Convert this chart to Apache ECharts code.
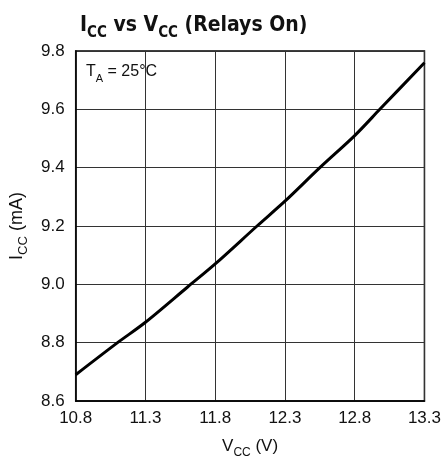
<!DOCTYPE html>
<html><head><meta charset="utf-8">
<script src="https://cdn.jsdelivr.net/npm/echarts@6/dist/echarts.min.js"></script>
<style>html,body{margin:0;padding:0;background:#fff}#c{width:444px;height:464px}</style>
</head><body><div id="c"></div>
<script>
var vccValues = [10.8, 11.1, 11.3, 11.6, 11.8, 12.1, 12.3, 12.55, 12.8, 12.98, 13.3];
var iccValues = [8.69, 8.80, 8.87, 8.99, 9.07, 9.20, 9.285, 9.40, 9.51, 9.60, 9.76];
var xTicks = [10.8, 11.3, 11.8, 12.3, 12.8, 13.3];
var yTicks = [8.6, 8.8, 9.0, 9.2, 9.4, 9.6, 9.8];

var F = '"Liberation Sans", Arial, sans-serif';
var FT = '"DejaVu Sans Condensed", "Liberation Sans", sans-serif';
function richSet(size, subSize, drop) {
  return {
    m: {fontFamily: F, fontWeight: 'normal', fontSize: size, color: '#111', verticalAlign: 'bottom', lineHeight: size + 2},
    s: {fontFamily: F, fontWeight: 'normal', fontSize: subSize, color: '#111', verticalAlign: 'bottom', lineHeight: subSize + 2, padding: [0, 0, -drop, 0]}
  };
}
var chart = echarts.init(document.getElementById('c'), null, {renderer: 'canvas'});
var data = vccValues.map(function (v, i) { return [v, iccValues[i]]; });
chart.setOption({
  animation: false,
  backgroundColor: '#fff',
  title: [{
    left: 75, top: 7,
    text: '{m|I}{s|CC}{m| vs V}{s|CC}{m| (Relays On)}',
    textStyle: {
      rich: {
        m: {fontFamily: FT, fontWeight: 'bold', fontSize: 21, color: '#111', verticalAlign: 'bottom', lineHeight: 24},
        s: {fontFamily: FT, fontWeight: 'bold', fontSize: 15, color: '#111', verticalAlign: 'bottom', lineHeight: 18, padding: [0, 0, -5, 0]}
      }
    }
  }, {
    left: 81, top: 57,
    text: '{m|T}{s|A}{m| = 25°C}',
    textStyle: {rich: richSet(16, 11, 4)}
  }],
  grid: {left: 75.7, right: 16.7, top: 51, bottom: 60.7, show: true, borderColor: '#000', borderWidth: 1.5, backgroundColor: 'transparent'},
  xAxis: {
    type: 'value', min: xTicks[0], max: xTicks[xTicks.length - 1], interval: 0.5,
    name: '{m|V}{s|CC}{m| (V)}', nameLocation: 'middle', nameGap: 35,
    nameTextStyle: {rich: richSet(17, 12, 4)},
    axisLine: {show: true, lineStyle: {color: '#000', width: 1.5}},
    axisTick: {show: false},
    axisLabel: {fontFamily: F, fontSize: 17, color: '#111', margin: 9, formatter: function (v) { return v.toFixed(1); }},
    splitLine: {show: true, lineStyle: {color: '#333', width: 1}}
  },
  yAxis: {
    type: 'value', min: yTicks[0], max: yTicks[yTicks.length - 1], interval: 0.2,
    name: '{m|I}{s|CC}{m| (mA)}', nameLocation: 'middle', nameGap: 45, nameRotate: 90,
    nameTextStyle: {rich: richSet(18, 13, 4)},
    axisLine: {show: true, lineStyle: {color: '#000', width: 1.5}},
    axisTick: {show: false},
    axisLabel: {fontFamily: F, fontSize: 17, color: '#111', margin: 11, formatter: function (v) { return v.toFixed(1); }},
    splitLine: {show: true, lineStyle: {color: '#333', width: 1}}
  },
  series: [{
    type: 'line', data: data, smooth: 0.3, showSymbol: false,
    lineStyle: {color: '#000', width: 3}
  }]
});
</script></body></html>
